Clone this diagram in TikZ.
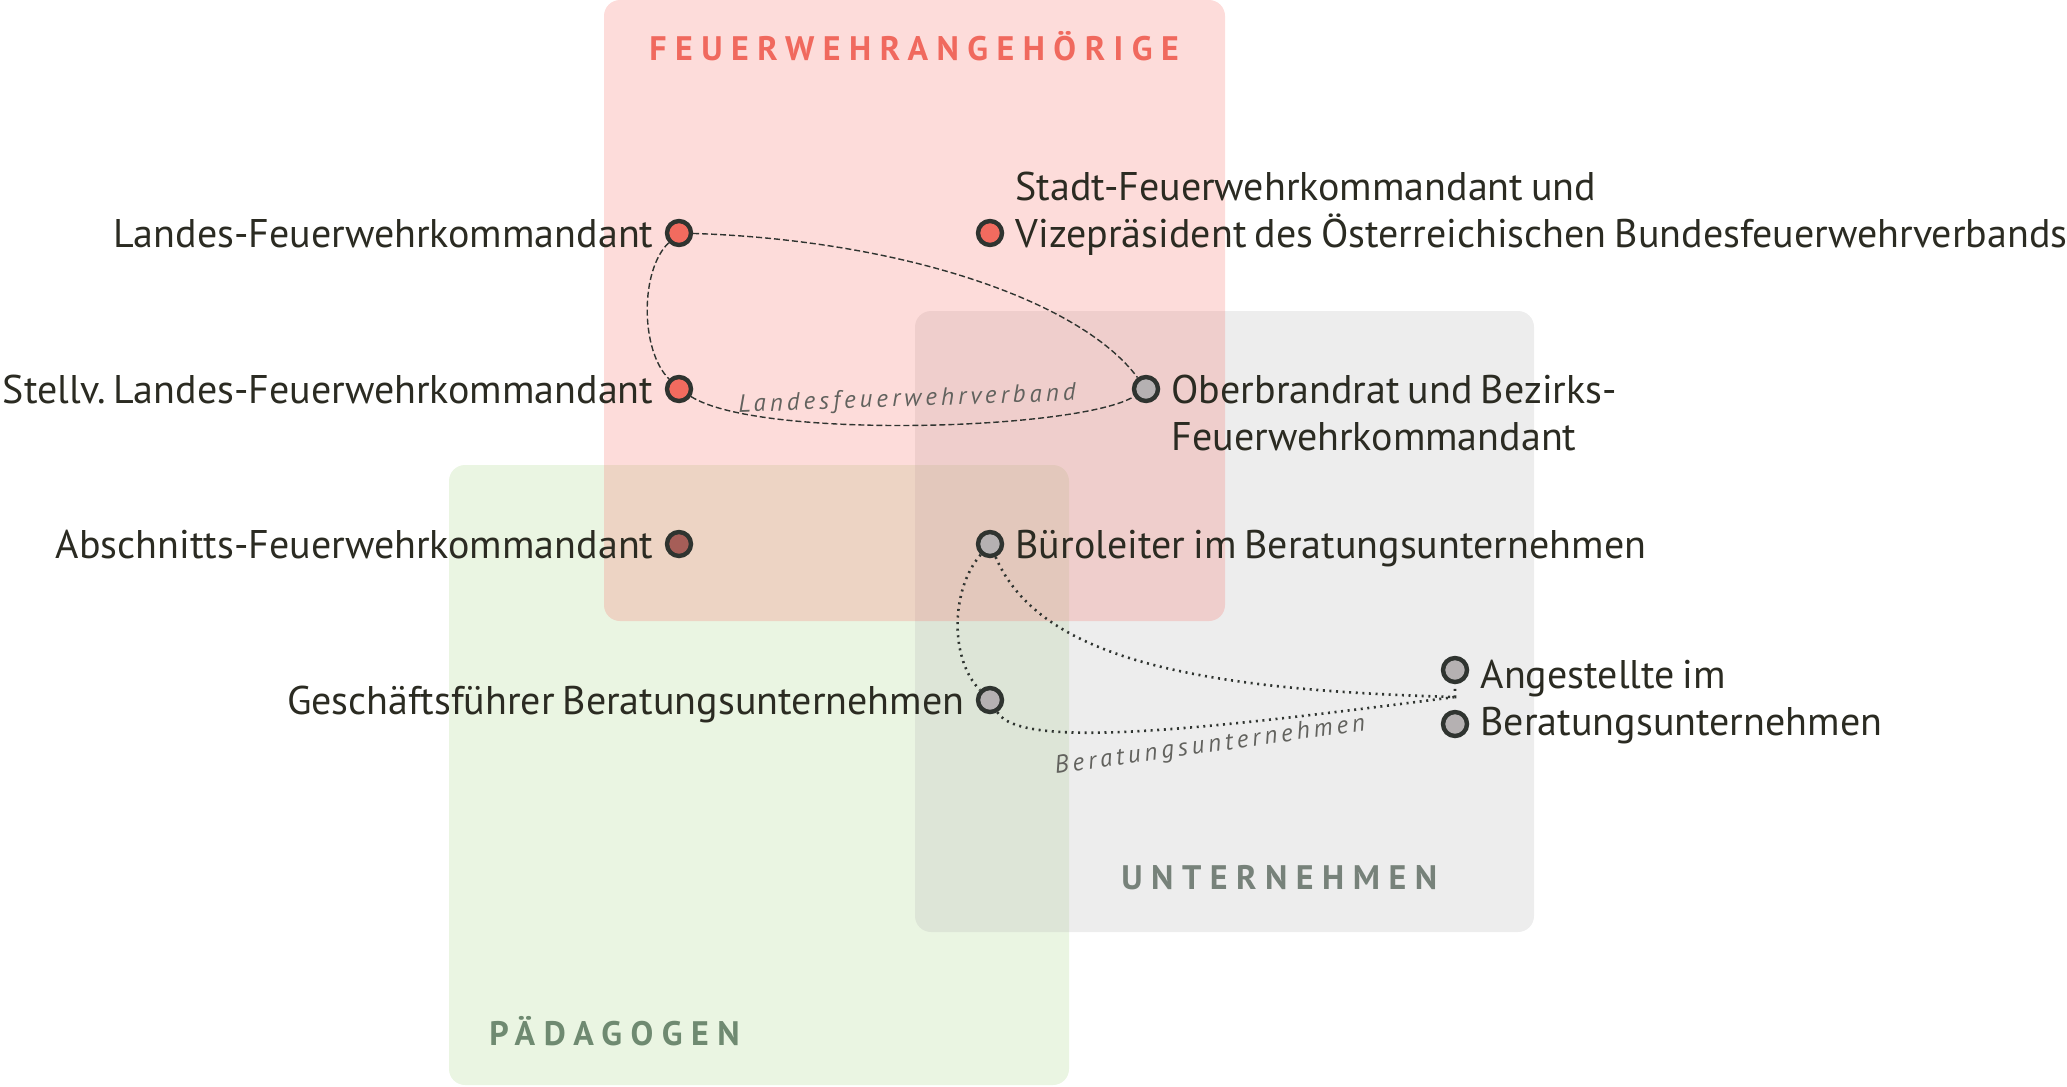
\documentclass[tikz,border=0pt]{standalone}
\usepackage{fontspec}
\setmainfont{PT Sans}[WordSpace=0.75]
\newfontfamily\groupfont{PT Sans}[LetterSpace=25]
\newfontfamily\edgefont{PT Sans}[LetterSpace=16]
\usetikzlibrary{positioning}
\frenchspacing

\definecolor{fwred}{HTML}{F26B5F}
\definecolor{fwbox}{HTML}{F7736B}
\definecolor{firmbox}{HTML}{B7B7B7}
\definecolor{paedbox}{HTML}{ABD78B}
\definecolor{firmdot}{HTML}{B5B1B2}
\definecolor{mixdot}{HTML}{A65E58}
\definecolor{ink}{HTML}{2B2B22}
\definecolor{rim}{HTML}{2F3430}
\definecolor{fwtxt}{HTML}{F0695E}
\definecolor{firmtxt}{HTML}{77827A}
\definecolor{paedtxt}{HTML}{6F8A71}
\definecolor{edgetxt}{HTML}{62625E}

\tikzset{
  person/.style={circle, draw=rim, line width=2.2pt, minimum size=12pt, inner sep=0pt},
  fwperson/.style={person, fill=fwred},
  firmperson/.style={person, fill=firmdot},
  persontext/.style={font=\fontsize{20}{23.5}\selectfont, text=ink, inner sep=0pt, align=left},
  groupbox/.style={rounded corners=8pt, fill opacity=0.25},
  grouptitle/.style={font=\fontsize{17}{20}\selectfont\groupfont\bfseries, inner sep=0pt},
  fwlink/.style={draw=rim, line width=0.7pt, dash pattern=on 3pt off 1.5pt},
  firmlink/.style={draw=rim, line width=1.3pt, dash pattern=on 1pt off 2.3pt},
  linklabel/.style={font=\fontsize{12.5}{14}\selectfont\edgefont\itshape, text=edgetxt, inner sep=0pt},
}

\begin{document}
\begin{tikzpicture}[x=0.5pt, y=-0.5pt]
\useasboundingbox (0,0) rectangle (2067,1087);

% groups
\fill[fill=paedbox, groupbox] (449,465) rectangle (1069,1085);
\fill[fill=firmbox, groupbox] (915,311) rectangle (1534,932);
\fill[fill=fwbox, groupbox] (604,0) rectangle (1225,621);

\node[grouptitle, text=fwtxt, anchor=base west] (fw-title) at (649,60) {FEUERWEHRANGEHÖRIGE};
\node[grouptitle, text=firmtxt, anchor=base west] (firm-title) at (1121,889) {UNTERNEHMEN};
\node[grouptitle, text=paedtxt, anchor=base west] (paed-title) at (489,1045) {PÄDAGOGEN};

% people
\node[fwperson] (lfk) at (679,233) {};
\node[fwperson] (sfk) at (990,233) {};
\node[fwperson] (stv) at (679,389) {};
\node[firmperson] (obr) at (1146,389) {};
\node[person, fill=mixdot] (afk) at (679,544) {};
\node[firmperson] (bue) at (990,544) {};
\node[firmperson] (gf) at (990,700) {};
\node[firmperson] (ang1) at (1455,670) {};
\node[firmperson] (ang2) at (1455,724) {};
\coordinate (ang) at (1455,697);

\node[persontext, anchor=base east] (lfk-t) at ([xshift=-5.5pt,yshift=-7pt]lfk.west) {Landes-Feuerwehrkommandant};
\node[persontext, anchor=base west] (sfk-t) at ([xshift=5.5pt,yshift=-7pt]sfk.east)
  {Stadt-Feuerwehrkommandant und\\Vizepräsident des Österreichischen Bundesfeuerwehrverbands};
\node[persontext, anchor=base east] (stv-t) at ([xshift=-5.5pt,yshift=-7pt]stv.west) {Stellv. Landes-Feuerwehrkommandant};
\node[persontext, anchor=base west] (obr-t) at ([xshift=5.5pt,yshift=-30.5pt]obr.east)
  {Oberbrandrat und Bezirks-\\Feuerwehrkommandant};
\node[persontext, anchor=base east] (afk-t) at ([xshift=-5.5pt,yshift=-7pt]afk.west) {Abschnitts-Feuerwehrkommandant};
\node[persontext, anchor=base west] (bue-t) at ([xshift=5.5pt,yshift=-7pt]bue.east) {Büroleiter im Beratungsunternehmen};
\node[persontext, anchor=base east] (gf-t) at ([xshift=-5.5pt,yshift=-7pt]gf.west) {Geschäftsführer Beratungsunternehmen};
\node[persontext, anchor=base west] (ang-t) at ([xshift=5.5pt,yshift=-32.5pt]ang1.east)
  {Angestellte im\\Beratungsunternehmen};

% links
\draw[fwlink] (lfk) .. controls (900,240) and (1080,300) .. (obr);
\draw[fwlink] (lfk) .. controls (640,270) and (640,350) .. (stv);
\draw[fwlink] (stv) .. controls (760,440) and (1080,430) .. (obr);
\node[linklabel, rotate=2] (lfv) at (907,400) {Landesfeuerwehrverband};

\draw[firmlink] (bue) .. controls (1040,660) and (1200,690) .. (ang) -- (ang1);
\draw[firmlink] (bue) .. controls (950,590) and (950,660) .. (gf);
\draw[firmlink] (gf) .. controls (1020,750) and (1200,730) .. (ang);
\node[linklabel, rotate=8] (bu) at (1210,746) {Beratungsunternehmen};

\end{tikzpicture}
\end{document}
